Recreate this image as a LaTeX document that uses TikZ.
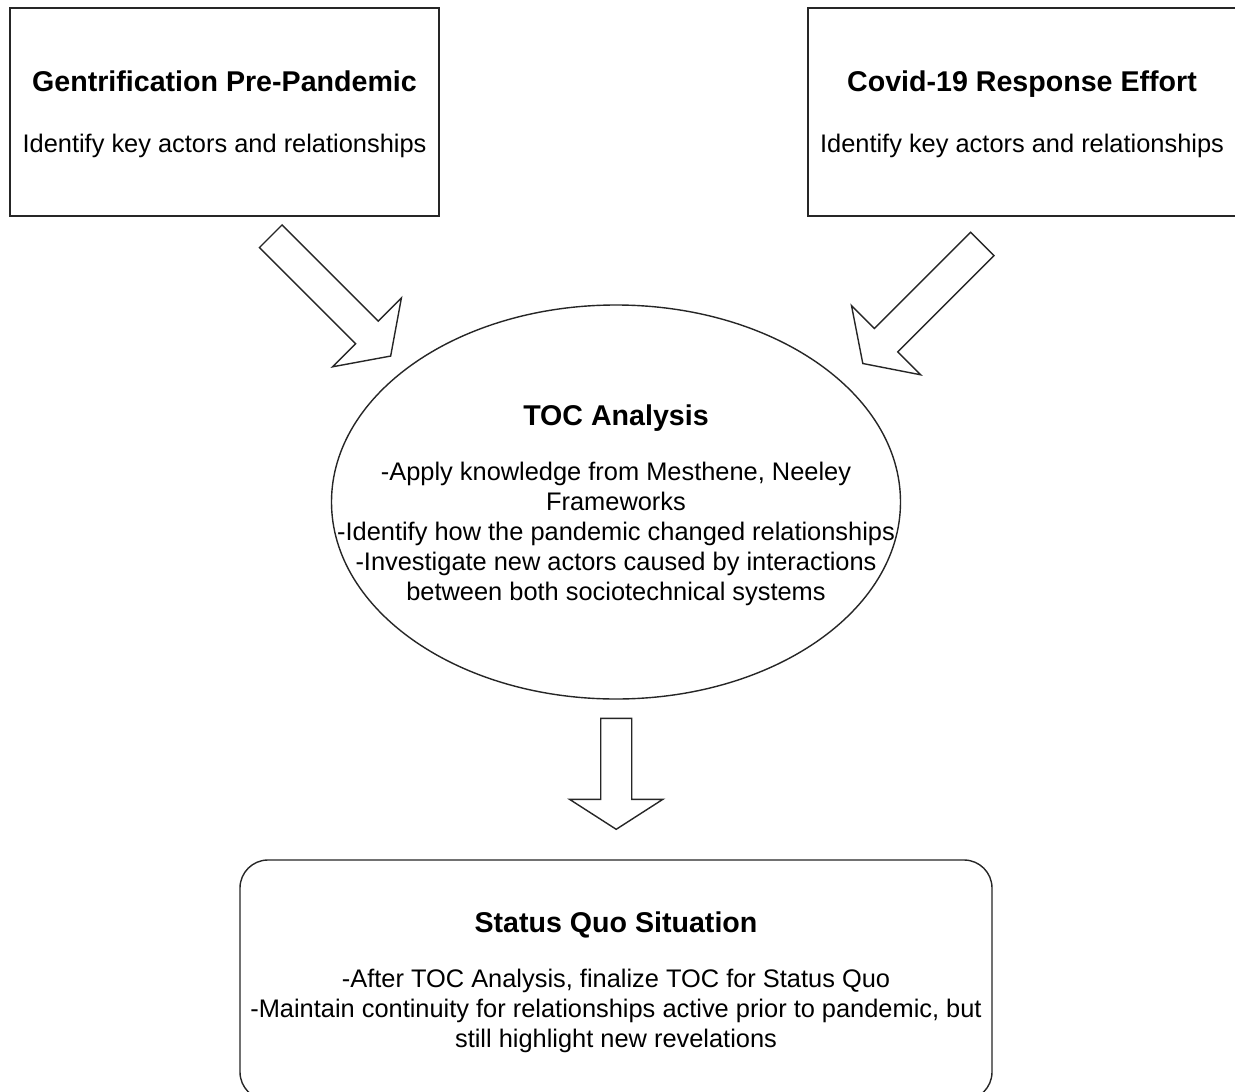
\documentclass[tikz,border=0pt]{standalone}
\usepackage{fontspec}
\setmainfont{Liberation Sans}
\usetikzlibrary{shapes.geometric}

% hollow block arrow: tail centre, angle, shaft length, shaft half width, head length, head half width
\newcommand{\hollowarrow}[6]{%
  \draw[blockarrow, shift={#1}, rotate=#2]
    (0,-#4) -- (#3,-#4) -- (#3,-#6) -- ({#3+#5},0) -- (#3,#6) -- (#3,#4) -- (0,#4) -- cycle;}

\begin{document}
\begin{tikzpicture}[x=1pt,y=-1pt,
  outline/.style={draw=black!85, line width=1.4pt},
  framebox/.style={outline, rectangle, inner sep=0pt, outer sep=0pt},
  title/.style={font=\bfseries\fontsize{28.6}{34}\selectfont, anchor=base, inner sep=0pt},
  body/.style={font=\fontsize{25.4}{30}\selectfont, align=center, anchor=north, inner sep=0pt},
  bodyline/.style={font=\fontsize{25.4}{30}\selectfont, anchor=base, inner sep=0pt},
  blockarrow/.style={outline, fill=white, line join=miter}]
\useasboundingbox (0,0) rectangle (1235,1092);
\fill[white] (0,0) rectangle (1235,1092);

% top boxes
\node[framebox, minimum width=429pt, minimum height=208pt] (gent) at (224.5,112) {};
\node[title] (genttitle) at (224.5,91) {Gentrification Pre-Pandemic};
\node[bodyline] (gentbody) at (224.5,152) {Identify key actors and relationships};

\node[framebox, minimum width=428pt, minimum height=208pt] (covid) at (1022,112) {};
\node[title] (covidtitle) at (1022,91) {Covid-19 Response Effort};
\node[bodyline] (covidbody) at (1022,152) {Identify key actors and relationships};

% central ellipse
\node[outline, ellipse, minimum width=569pt, minimum height=394pt, inner sep=0pt] (toc) at (616,502) {};
\node[title] (toctitle) at (616,425) {TOC Analysis};
\node[body] (tocbody) at (616,461.5) {-Apply knowledge from Mesthene, Neeley\\Frameworks\\-Identify how the pandemic changed relationships\\-Investigate new actors caused by interactions\\between both sociotechnical systems};

% bottom rounded box
\node[framebox, rounded corners=28pt, minimum width=752pt, minimum height=240pt] (quo) at (616,980) {};
\node[title] (quotitle) at (616,932) {Status Quo Situation};
\node[body] (quobody) at (616,968.5) {-After TOC Analysis, finalize TOC for Status Quo\\-Maintain continuity for relationships active prior to pandemic, but\\still highlight new revelations};

% block arrows between the stages
\coordinate (gentout) at (270.8,236.2);
\coordinate (covidout) at (982.3,244);
\coordinate (tocout) at (616.2,718.3);
\hollowarrow{(gentout)}{-45}{136}{16}{33.5}{48.7}
\hollowarrow{(covidout)}{-135}{136}{16.5}{33}{49}
\hollowarrow{(tocout)}{-90}{81}{15.5}{30}{46.7}
\end{tikzpicture}
\end{document}
